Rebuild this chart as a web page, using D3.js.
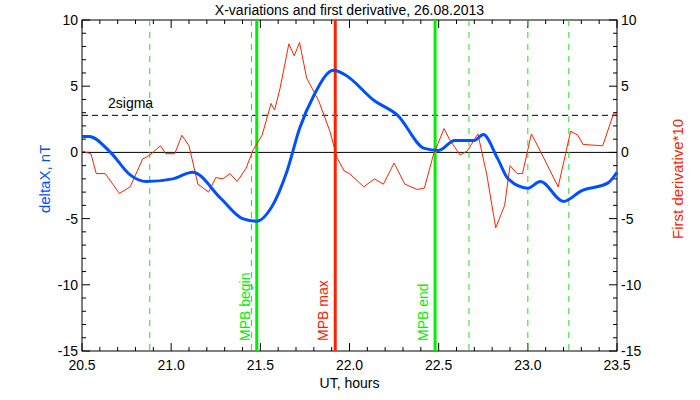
<!doctype html>
<meta charset="utf-8">
<title>X-variations</title>
<script src="https://cdn.jsdelivr.net/npm/d3@7"></script>
<style>
body { margin: 0; background: #fff; }
text { font-family: "Liberation Sans", Arial, sans-serif; font-size: 14px; }
</style>
<svg width=700 height=400></svg>
<script>
// deltaX (nT) samples: time, value
var deltaT = [20.5,20.54,20.66,20.77,20.86,21.01,21.12,21.28,21.4,21.48,21.56,21.65,21.72,21.8,21.91,21.97,22.14,22.27,22.42,22.5,22.59,22.7,22.75,22.83,22.89,23.0,23.07,23.2,23.3,23.45,23.5];
var deltaV = [1.2,1.2,0,-1.7,-2.2,-2.0,-1.5,-3.5,-5.0,-5.2,-4.2,-1.4,1.8,4.3,6.2,5.9,3.9,2.8,0.3,0.15,0.9,0.9,1.35,-0.45,-2.0,-2.7,-2.2,-3.7,-2.9,-2.3,-1.5];
// first derivative * 10
var derivT = [20.5,20.55,20.58,20.63,20.71,20.77,20.84,20.88,20.94,20.97,21.02,21.06,21.10,21.15,21.21,21.25,21.29,21.33,21.37,21.42,21.46,21.51,21.56,21.58,21.61,21.66,21.69,21.72,21.76,21.80,21.83,21.89,21.93,21.97,22.0,22.08,22.14,22.19,22.25,22.31,22.38,22.42,22.47,22.53,22.56,22.62,22.66,22.72,22.77,22.82,22.87,22.90,22.94,22.97,23.02,23.07,23.17,23.24,23.28,23.31,23.42,23.48,23.5];
var derivV = [0.1,-0.1,-1.6,-1.6,-3.1,-2.6,-0.5,-0.2,0.5,-0.1,-0.1,1.3,0.5,-2.4,-3.0,-1.9,-2.0,-1.6,-2.2,-1.2,0.2,1.3,3.7,3.2,4.8,8.2,7.3,8.3,5.6,4.6,3.8,1.6,-0.4,-1.4,-1.6,-2.6,-2.0,-2.4,-0.8,-2.4,-2.8,-2.7,-0.2,1.8,1.0,-0.2,0.1,1.4,-1.7,-5.7,-4.0,-1.0,-1.6,-1.6,1.4,0.1,-2.6,1.6,1.3,0.6,0.5,2.9,2.9];
var xTicks = [20.5,21.0,21.5,22.0,22.5,23.0,23.5];
var yTicks = [-15,-10,-5,0,5,10];
var sigma2 = 2.8;
var dashedMarks = [20.88,21.45,22.67,23.0,23.23];
var mpbBegin = 21.48, mpbMax = 21.92, mpbEnd = 22.48;

var svg = d3.select('svg');
var L = 82, R = 617, T = 20, B = 351;
var x = d3.scaleLinear().domain([20.5, 23.5]).range([L, R]);
var y = d3.scaleLinear().domain([-15, 10]).range([B, T]);
var fmt = d3.format('.1f');

// frame
svg.append('rect').attr('x', L).attr('y', T).attr('width', R - L).attr('height', B - T)
  .attr('fill', 'none').attr('stroke', '#000');

// major and minor ticks on all four sides
d3.range(20.5, 23.501, 0.1).forEach(function(t) {
  var big = xTicks.some(function(v) { return Math.abs(v - t) < 1e-6; });
  var len = big ? 8 : 4;
  svg.append('line').attr('x1', x(t)).attr('x2', x(t)).attr('y1', B).attr('y2', B - len).attr('stroke', '#000');
  svg.append('line').attr('x1', x(t)).attr('x2', x(t)).attr('y1', T).attr('y2', T + len).attr('stroke', '#000');
});
d3.range(-15, 10.01, 1).forEach(function(v) {
  var len = v % 5 === 0 ? 8 : 4;
  svg.append('line').attr('x1', L).attr('x2', L + len).attr('y1', y(v)).attr('y2', y(v)).attr('stroke', '#000');
  svg.append('line').attr('x1', R).attr('x2', R - len).attr('y1', y(v)).attr('y2', y(v)).attr('stroke', '#000');
});
xTicks.forEach(function(t) {
  svg.append('text').attr('x', x(t)).attr('y', B + 19).attr('text-anchor', 'middle').text(fmt(t));
});
yTicks.forEach(function(v) {
  svg.append('text').attr('x', L - 4).attr('y', y(v) + 5).attr('text-anchor', 'end').text(v);
  svg.append('text').attr('x', R + 4).attr('y', y(v) + 5).attr('text-anchor', 'start').text(v);
});

// title and axis labels
svg.append('text').attr('x', (L + R) / 2).attr('y', 15).attr('text-anchor', 'middle').text('X-variations and first derivative, 26.08.2013');
svg.append('text').attr('x', (L + R) / 2).attr('y', 388).attr('text-anchor', 'middle').text('UT, hours');
svg.append('text').attr('transform', 'translate(50,' + y(-2) + ') rotate(-90)').attr('text-anchor', 'middle')
  .attr('fill', '#0050ff').style('font-size', '15px').text('deltaX, nT');
svg.append('text').attr('transform', 'translate(683,' + y(-2) + ') rotate(-90)').attr('text-anchor', 'middle')
  .attr('fill', '#ff2000').style('font-size', '15px').text('First derivative*10');

// reference lines
svg.append('line').attr('x1', L).attr('x2', R).attr('y1', y(0)).attr('y2', y(0)).attr('stroke', '#000');
svg.append('line').attr('x1', L).attr('x2', R).attr('y1', y(sigma2)).attr('y2', y(sigma2))
  .attr('stroke', '#000').attr('stroke-dasharray', '6,4');
svg.append('text').attr('x', 108).attr('y', y(sigma2) - 7).text('2sigma');

dashedMarks.forEach(function(t) {
  svg.append('line').attr('x1', x(t)).attr('x2', x(t)).attr('y1', T).attr('y2', B)
    .attr('stroke', '#22dd22').attr('stroke-dasharray', '6,6');
});
[[mpbBegin, '#00ee00', 'MPB begin'], [mpbMax, '#ff2000', 'MPB max'], [mpbEnd, '#00ee00', 'MPB end']].forEach(function(m) {
  svg.append('line').attr('x1', x(m[0])).attr('x2', x(m[0])).attr('y1', T).attr('y2', B)
    .attr('stroke', m[1]).attr('stroke-width', 3);
  svg.append('text').attr('transform', 'translate(' + (x(m[0]) - 7) + ',341) rotate(-90)')
    .attr('fill', m[1]).text(m[2]);
});

// curves
var redLine = d3.line();
var blueLine = d3.line().curve(d3.curveMonotoneX);
svg.append('path').attr('d', redLine(derivT.map(function(t, i) { return [x(t), y(derivV[i])]; })))
  .attr('fill', 'none').attr('stroke', '#ff2000').attr('stroke-width', 1);
svg.append('path').attr('d', blueLine(deltaT.map(function(t, i) { return [x(t), y(deltaV[i])]; })))
  .attr('fill', 'none').attr('stroke', '#0050ff').attr('stroke-width', 3);
</script>
